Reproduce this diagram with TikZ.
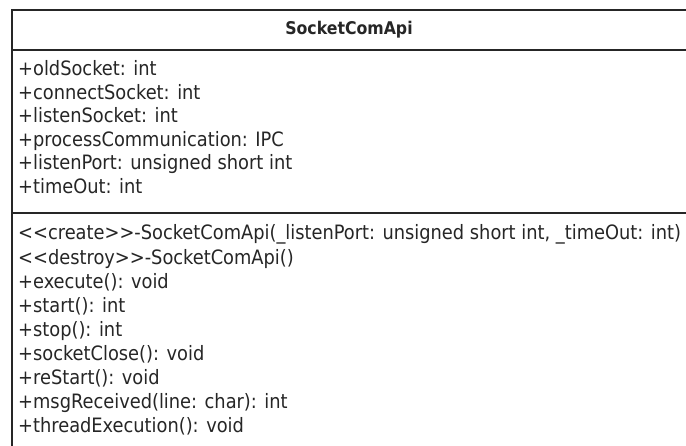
\documentclass[tikz,border=0pt]{standalone}
\usepackage{fontspec}
\setmainfont{DejaVu Sans Condensed}
\begin{document}
\begin{tikzpicture}[x=1pt,y=-1pt,
  member/.style={anchor=base west,inner sep=0pt,font=\fontsize{19.8}{22}\selectfont,text=black!85},
  title/.style={anchor=center,inner sep=0pt,font=\bfseries\fontsize{17.5}{20}\selectfont,text=black!85},
  frame/.style={line width=1.6pt,draw=black!85}]
\useasboundingbox[fill=white] (0,0) rectangle (686,446);
\clip (0,0) rectangle (686,446);
\draw[frame] (12,460) -- (12,10) -- (700,10);
\draw[frame] (12,50) -- (700,50);
\draw[frame] (12,213) -- (700,213);
\node[title] (name) at (349,30) {SocketComApi};
\foreach \t [count=\i from 0] in {+oldSocket: int,+connectSocket: int,+listenSocket: int,+processCommunication: IPC,+listenPort: unsigned short int,+timeOut: int}
  \node[member] (a\i) at (18,{76+23.5*\i}) {\t};
\foreach \t [count=\i from 0] in {{<{}<create>{}>-SocketComApi(\_listenPort: unsigned short int, \_timeOut: int)},{<{}<destroy>{}>-SocketComApi()},+execute(): void,+start(): int,+stop(): int,+socketClose(): void,+reStart(): void,+msgReceived(line: char): int,+threadExecution(): void}
  \node[member] (o\i) at (18,{240+24.1*\i}) {\t};
\end{tikzpicture}
\end{document}
